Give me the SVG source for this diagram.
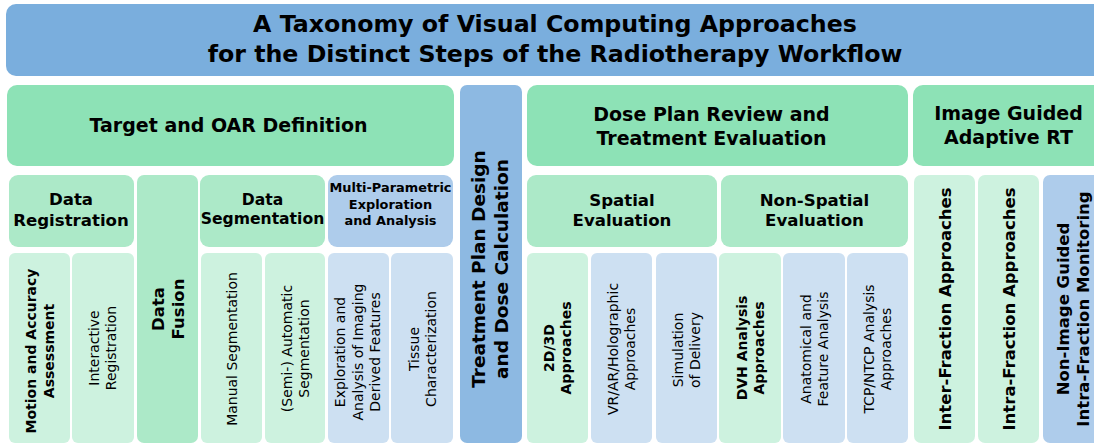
<svg xmlns="http://www.w3.org/2000/svg" width="1094" height="443" viewBox="0 0 1094 443">
<style>
text{font-family:"DejaVu Sans","Liberation Sans",sans-serif;fill:#000;text-anchor:middle}
.t0{font-size:23.7px;font-weight:bold}
.t1{font-size:19px;font-weight:bold}
.t2{font-size:16.6px;font-weight:bold}
.t2s{font-size:12.9px;font-weight:bold}
.t3{font-size:14px}
.t3b{font-size:14px;font-weight:bold}
.tv{font-size:16.5px;font-weight:bold}
.tt{font-size:18.5px;font-weight:bold}
.ttl{fill:#7AAEDD}
.g1{fill:#8DE2B6}
.g2{fill:#ACE9C8}
.g3{fill:#CDF2DF}
.b1{fill:#8DB9E2}
.b2{fill:#AECCEB}
.b3{fill:#CDE0F2}
</style>
<rect width="1094" height="443" fill="#ffffff"/>

<g id="title">
<rect class="ttl" x="6" y="4" width="1098" height="72" rx="10"/>
<text class="t0"><tspan x="555" y="32">A Taxonomy of Visual Computing Approaches</tspan><tspan x="555" y="62">for the Distinct Steps of the Radiotherapy Workflow</tspan></text>
</g>

<g id="target-oar">
<rect class="g1" x="7" y="85" width="447" height="81" rx="10"/>
<text class="t1" x="228.5" y="132">Target and OAR Definition</text>
</g>

<g id="treatment-plan">
<rect class="b1" x="460" y="85" width="62" height="358" rx="7"/>
<text class="tt" transform="translate(489.5,269) rotate(-90)"><tspan x="0" y="-5">Treatment Plan Design</tspan><tspan x="0" y="18">and Dose Calculation</tspan></text>
</g>

<g id="dose-plan-review">
<rect class="g1" x="527" y="85" width="381" height="81" rx="10"/>
<text class="t1"><tspan x="711.5" y="121">Dose Plan Review and</tspan><tspan x="711.5" y="145">Treatment Evaluation</tspan></text>
</g>

<g id="image-guided">
<rect class="g1" x="913" y="85" width="191" height="81" rx="10"/>
<text class="t1"><tspan x="1008.5" y="120">Image Guided</tspan><tspan x="1008.5" y="143.5">Adaptive RT</tspan></text>
</g>

<g id="data-registration">
<rect class="g2" x="9" y="175" width="125" height="72" rx="9"/>
<text class="t2"><tspan x="71" y="205">Data</tspan><tspan x="71" y="226">Registration</tspan></text>
</g>

<g id="data-fusion">
<rect class="g2" x="137" y="175" width="61" height="268" rx="7"/>
<text class="t2" style="font-size:16.5px" transform="translate(167.5,309) rotate(-90)"><tspan x="0" y="-4">Data</tspan><tspan x="0" y="16">Fusion</tspan></text>
</g>

<g id="data-segmentation">
<rect class="g2" x="200" y="175" width="125" height="72" rx="9"/>
<text class="t2" style="font-size:15.6px"><tspan x="262.5" y="205">Data</tspan><tspan x="262.5" y="224">Segmentation</tspan></text>
</g>

<g id="multi-parametric">
<rect class="b2" x="328" y="175" width="125" height="72" rx="9"/>
<text class="t2s"><tspan x="390.5" y="192">Multi-Parametric</tspan><tspan x="390.5" y="208.5">Exploration</tspan><tspan x="390.5" y="224.5">and Analysis</tspan></text>
</g>

<g id="spatial-evaluation">
<rect class="g2" x="527" y="175" width="190" height="72" rx="9"/>
<text class="t2"><tspan x="622" y="206">Spatial</tspan><tspan x="622" y="226">Evaluation</tspan></text>
</g>

<g id="non-spatial-evaluation">
<rect class="g2" x="721" y="175" width="187" height="72" rx="9"/>
<text class="t2"><tspan x="814.5" y="206">Non-Spatial</tspan><tspan x="814.5" y="226">Evaluation</tspan></text>
</g>

<g id="inter-fraction">
<rect class="g3" x="914" y="175" width="61" height="268" rx="7"/>
<text class="tv" transform="translate(944.5,309) rotate(-90)" y="6">Inter-Fraction Approaches</text>
</g>

<g id="intra-fraction">
<rect class="g3" x="978" y="175" width="61" height="268" rx="7"/>
<text class="tv" transform="translate(1008.5,309) rotate(-90)" y="6">Intra-Fraction Approaches</text>
</g>

<g id="non-image-guided">
<rect class="b2" x="1043" y="175" width="61" height="268" rx="7"/>
<text class="tv" transform="translate(1072.5,309) rotate(-90)"><tspan x="0" y="-4">Non-Image Guided</tspan><tspan x="0" y="16">Intra-Fraction Monitoring</tspan></text>
</g>

<g id="motion-accuracy">
<rect class="g3" x="9" y="253" width="61" height="190" rx="6"/>
<text class="t3b" transform="translate(40,351) rotate(-90)"><tspan x="0" y="-4.5">Motion and Accuracy</tspan><tspan x="0" y="13.5">Assessment</tspan></text>
</g>

<g id="interactive-registration">
<rect class="g3" x="72" y="253" width="62" height="190" rx="6"/>
<text class="t3" transform="translate(102,348) rotate(-90)"><tspan x="0" y="-3.5">Interactive</tspan><tspan x="0" y="13.5">Registration</tspan></text>
</g>

<g id="manual-segmentation">
<rect class="g3" x="201" y="253" width="61" height="190" rx="6"/>
<text class="t3" transform="translate(231.5,349) rotate(-90)" y="5">Manual Segmentation</text>
</g>

<g id="semi-automatic-segmentation">
<rect class="g3" x="265" y="253" width="60" height="190" rx="6"/>
<text class="t3" transform="translate(295,348.5) rotate(-90)"><tspan x="0" y="-3.5">(Semi-) Automatic</tspan><tspan x="0" y="13.5">Segmentation</tspan></text>
</g>

<g id="imaging-derived-features">
<rect class="b3" x="328" y="253" width="61" height="190" rx="6"/>
<text class="t3" transform="translate(357.5,352) rotate(-90)"><tspan x="0" y="-12.5">Exploration and</tspan><tspan x="0" y="5">Analysis of Imaging</tspan><tspan x="0" y="22.5">Derived Features</tspan></text>
</g>

<g id="tissue-characterization">
<rect class="b3" x="391" y="253" width="62" height="190" rx="6"/>
<text class="t3" transform="translate(422,349) rotate(-90)"><tspan x="0" y="-3.5">Tissue</tspan><tspan x="0" y="13.5">Characterization</tspan></text>
</g>

<g id="approaches-2d3d">
<rect class="g3" x="527" y="253" width="61" height="190" rx="6"/>
<text class="t3b" transform="translate(557.5,348) rotate(-90)"><tspan x="0" y="-3.5">2D/3D</tspan><tspan x="0" y="13.5">Approaches</tspan></text>
</g>

<g id="vr-ar-holographic">
<rect class="b3" x="591" y="253" width="61" height="190" rx="6"/>
<text class="t3" transform="translate(621.5,349) rotate(-90)"><tspan x="0" y="-3.5">VR/AR/Holographic</tspan><tspan x="0" y="13.5">Approaches</tspan></text>
</g>

<g id="simulation-delivery">
<rect class="b3" x="656" y="253" width="61" height="190" rx="6"/>
<text class="t3" transform="translate(686.5,350) rotate(-90)"><tspan x="0" y="-3.5">Simulation</tspan><tspan x="0" y="13.5">of Delivery</tspan></text>
</g>

<g id="dvh-analysis">
<rect class="g3" x="719" y="253" width="62" height="190" rx="6"/>
<text class="t3b" transform="translate(750,348) rotate(-90)"><tspan x="0" y="-3.5">DVH Analysis</tspan><tspan x="0" y="13.5">Approaches</tspan></text>
</g>

<g id="anatomical-feature">
<rect class="b3" x="783" y="253" width="62" height="190" rx="6"/>
<text class="t3" transform="translate(814,349) rotate(-90)"><tspan x="0" y="-3.5">Anatomical and</tspan><tspan x="0" y="13.5">Feature Analysis</tspan></text>
</g>

<g id="tcp-ntcp">
<rect class="b3" x="847" y="253" width="61" height="190" rx="6"/>
<text class="t3" transform="translate(877.5,349) rotate(-90)"><tspan x="0" y="-3.5">TCP/NTCP Analysis</tspan><tspan x="0" y="13.5">Approaches</tspan></text>
</g>
</svg>
